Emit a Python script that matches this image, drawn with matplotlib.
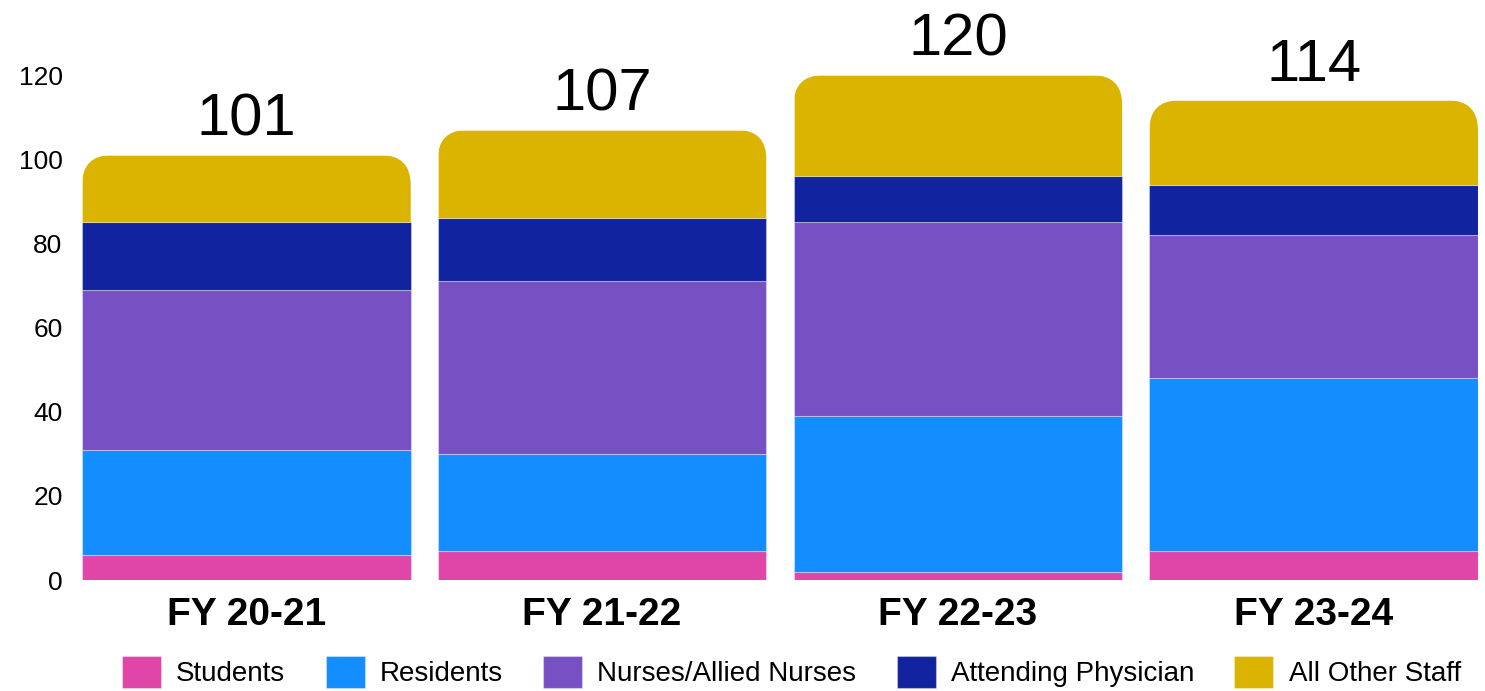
import numpy as np
import matplotlib
matplotlib.use('Agg')
import matplotlib.pyplot as plt
from matplotlib.patches import FancyBboxPatch

plt.rcParams['font.family'] = ['Liberation Sans', 'DejaVu Sans']

# data
years = ['FY 20-21', 'FY 21-22', 'FY 22-23', 'FY 23-24']
students = [6, 7, 2, 7]
residents = [25, 23, 37, 41]
nurses = [38, 41, 46, 34]
attending = [16, 15, 11, 12]
other = [16, 21, 24, 20]
groups = ['Students', 'Residents', 'Nurses/Allied Nurses', 'Attending Physician', 'All Other Staff']
colors = ['#E046A8', '#138DFF', '#7751C4', '#12239F', '#DAB401']

series = [students, residents, nurses, attending, other]
x = np.arange(len(years))
width = 0.924

fig = plt.figure(figsize=(14.85, 6.91), dpi=100)
ax = fig.add_axes([82/1485, 111/691, 1396/1485, 568/691])

bottom = np.zeros(len(years))
bars = []
for vals, col, name in zip(series, colors, groups):
    b = ax.bar(x, vals, width, bottom=bottom, color=col, label=name,
               edgecolor=(1, 1, 1, 0.35), linewidth=0.8)
    bars.append(b)
    bottom = bottom + np.array(vals)
totals = bottom

ax.set_xlim(-width/2, len(years) - 1 + width/2)
ax.set_ylim(0, 135)

# rounded top corners on the last segment
px_x = 1396 / (len(years) - 1 + width)
px_y = 568 / 135
r = 30 / px_x
for rect, top in zip(bars[-1], totals):
    x0 = rect.get_x()
    clip = FancyBboxPatch((x0, top - 40), rect.get_width(), 40,
                          boxstyle='round,pad=0,rounding_size=%f' % r,
                          mutation_aspect=px_x / px_y, transform=ax.transData)
    rect.set_clip_path(clip)

for xi, t in zip(x, totals):
    ax.text(xi, t + 1.7, str(int(t)), ha='center', va='bottom', fontsize=43)

ax.set_yticks([0, 20, 40, 60, 80, 100, 120])
ax.set_xticks(x)
ax.set_xticklabels(years, fontsize=28, fontweight='bold')
ax.tick_params(axis='y', length=0, pad=14, labelsize=19)
ax.tick_params(axis='x', length=0, pad=12)
for s in ax.spines.values():
    s.set_visible(False)

fig.legend(loc='upper center', bbox_to_anchor=(0.533, 1 - 656/691), ncol=5,
           frameon=False, fontsize=20, handlelength=1.4, handleheight=1.4,
           handletextpad=0.55, columnspacing=1.45, borderpad=0, borderaxespad=0)

fig.savefig('out.png', dpi=100)
